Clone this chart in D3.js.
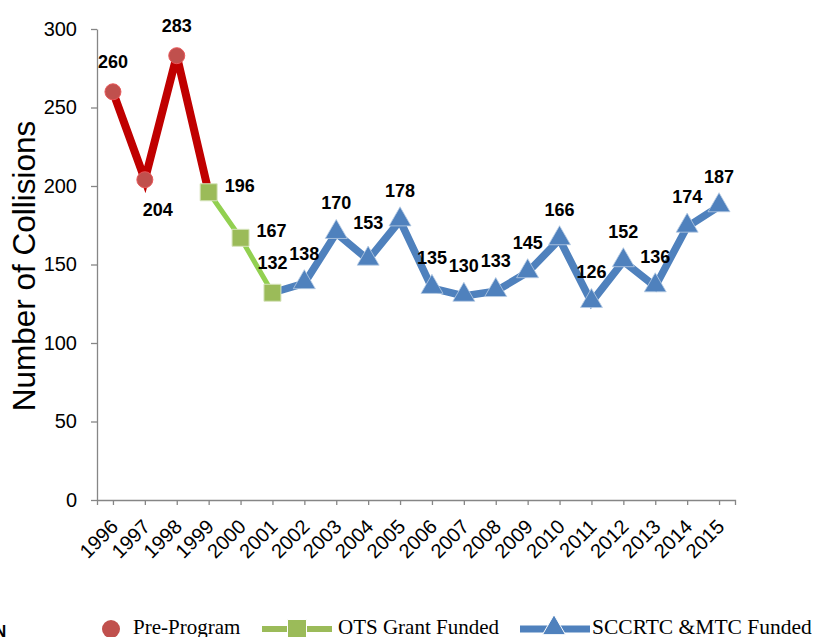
<!DOCTYPE html>
<html>
<head>
<meta charset="utf-8">
<script src="https://cdn.jsdelivr.net/npm/d3@7"></script>
<style>
  body { margin: 0; background: #fff; }
  svg { display: block; }
</style>
</head>
<body>
<svg id="chart"></svg>
<script>
// chart data
const years = ["1996", "1997", "1998", "1999", "2000", "2001", "2002", "2003", "2004", "2005",
  "2006", "2007", "2008", "2009", "2010", "2011", "2012", "2013", "2014", "2015"];
const collisions = [260, 204, 283, 196, 167, 132, 138, 170, 153, 178,
  135, 130, 133, 145, 166, 126, 152, 136, 174, 187];
const preProgramYears = ["1996", "1997", "1998", "1999"];
const otsYears = ["1999", "2000", "2001"];
const sccrtcYears = ["2001", "2002", "2003", "2004", "2005", "2006", "2007", "2008",
  "2009", "2010", "2011", "2012", "2013", "2014", "2015"];
const yTicks = [0, 50, 100, 150, 200, 250, 300];
const labelPlacement = ["above", "belowRight", "above", "right", "right", "above", "above", "above", "aboveHigh", "above",
  "above", "above", "above", "above", "above", "above", "above", "above", "above", "above"];
const legendNames = ["Pre-Program", "OTS Grant Funded", "SCCRTC &MTC Funded"];

const width = 815, height = 637;
const svg = d3.select("#chart").attr("width", width).attr("height", height);

const x = d3.scalePoint().domain(years).range([97, 735]).padding(0.5);
const y = d3.scaleLinear().domain([0, 300]).range([500, 29]);

const valueOf = yr => collisions[years.indexOf(yr)];
const axisColor = "#868686";
const sans = "'Liberation Sans', Arial, sans-serif";

// axes
const yAxis = svg.append("g")
  .attr("transform", "translate(97,0)")
  .call(d3.axisLeft(y).tickValues(yTicks).tickSize(6).tickSizeOuter(0).tickPadding(14));
yAxis.selectAll("text")
  .style("font-family", sans)
  .style("font-size", "20px")
  .attr("fill", "#000");

const xAxis = svg.append("g")
  .attr("transform", "translate(0,500)")
  .call(d3.axisBottom(x).tickSize(5).tickSizeOuter(5));
xAxis.selectAll("text")
  .style("font-family", sans)
  .style("font-size", "20px")
  .attr("fill", "#000")
  .attr("text-anchor", "end")
  .attr("y", 0)
  .attr("dy", 0)
  .attr("transform", "translate(6,28) rotate(-45)");

svg.selectAll(".domain, .tick line").attr("stroke", axisColor).attr("stroke-width", 1.3);

svg.append("text")
  .attr("transform", "translate(35,266) rotate(-90)")
  .attr("text-anchor", "middle")
  .style("font-family", sans)
  .style("font-size", "31.5px")
  .text("Number of Collisions");

// lines
const line = d3.line().x(d => x(d)).y(d => y(valueOf(d)));

svg.append("path").datum(preProgramYears)
  .attr("d", line).attr("fill", "none")
  .attr("stroke", "#C00000").attr("stroke-width", 8);
svg.append("path").datum(otsYears)
  .attr("d", line).attr("fill", "none")
  .attr("stroke", "#92D050").attr("stroke-width", 5);
svg.append("path").datum(sccrtcYears)
  .attr("d", line).attr("fill", "none")
  .attr("stroke", "#4F81BD").attr("stroke-width", 7.5);

// markers
const circleSym = d3.symbol().type(d3.symbolCircle).size(Math.PI * 64);
const squareSym = d3.symbol().type(d3.symbolSquare).size(17 * 17);
const triSym = d3.symbol().type(d3.symbolTriangle).size(210);

svg.append("g").selectAll("path")
  .data(sccrtcYears.slice(1))
  .join("path")
  .attr("d", triSym)
  .attr("transform", d => `translate(${x(d)},${y(valueOf(d)) - 1})`)
  .attr("fill", "#4F81BD").attr("stroke", "#B9CDE5").attr("stroke-width", 0.8);

svg.append("g").selectAll("path")
  .data(preProgramYears.slice(0, 3))
  .join("path")
  .attr("d", circleSym)
  .attr("transform", d => `translate(${x(d)},${y(valueOf(d))})`)
  .attr("fill", "#C0504D").attr("stroke", "#E8585A").attr("stroke-width", 1);

svg.append("g").selectAll("path")
  .data(otsYears)
  .join("path")
  .attr("d", squareSym)
  .attr("transform", d => `translate(${x(d)},${y(valueOf(d))})`)
  .attr("fill", "#9BBB59").attr("stroke", "#D7E4BD").attr("stroke-width", 1);

// data labels
const offsets = {
  above: [0, -30],
  aboveHigh: [0, -37],
  belowRight: [13, 30],
  right: [31, -7]
};
svg.append("g").selectAll("text")
  .data(years)
  .join("text")
  .attr("x", (d, i) => x(d) + offsets[labelPlacement[i]][0])
  .attr("y", (d, i) => y(collisions[i]) + offsets[labelPlacement[i]][1])
  .attr("dy", "0.35em")
  .attr("text-anchor", "middle")
  .style("font-family", sans)
  .style("font-size", "18px")
  .style("font-weight", "bold")
  .text((d, i) => collisions[i]);

// legend
const legend = svg.append("g");
const legendFont = "'Liberation Serif', 'Times New Roman', serif";

legend.append("path")
  .attr("d", d3.symbol().type(d3.symbolCircle).size(Math.PI * 81))
  .attr("transform", "translate(111,629)")
  .attr("fill", "#C0504D");
legend.append("text").attr("x", 133).attr("y", 634)
  .style("font-family", legendFont).style("font-size", "21px")
  .text(legendNames[0]);

legend.append("line").attr("x1", 262).attr("x2", 332).attr("y1", 629).attr("y2", 629)
  .attr("stroke", "#9BBB59").attr("stroke-width", 6);
legend.append("path")
  .attr("d", d3.symbol().type(d3.symbolSquare).size(19 * 19))
  .attr("transform", "translate(297,629)")
  .attr("fill", "#9BBB59").attr("stroke", "#fff").attr("stroke-width", 1);
legend.append("text").attr("x", 338).attr("y", 634)
  .style("font-family", legendFont).style("font-size", "21px")
  .text(legendNames[1]);

legend.append("line").attr("x1", 520).attr("x2", 590).attr("y1", 629).attr("y2", 629)
  .attr("stroke", "#4F81BD").attr("stroke-width", 7);
legend.append("path")
  .attr("d", d3.symbol().type(d3.symbolTriangle).size(230))
  .attr("transform", "translate(554,628)")
  .attr("fill", "#4F81BD").attr("stroke", "#fff").attr("stroke-width", 1);
legend.append("text").attr("x", 592).attr("y", 634)
  .style("font-family", legendFont).style("font-size", "21.5px")
  .text(legendNames[2]);

// cut-off text at the bottom left edge
svg.append("text").attr("x", -6).attr("y", 637)
  .style("font-family", sans)
  .style("font-size", "17px").style("font-weight", "bold")
  .text("N");
</script>
</body>
</html>
